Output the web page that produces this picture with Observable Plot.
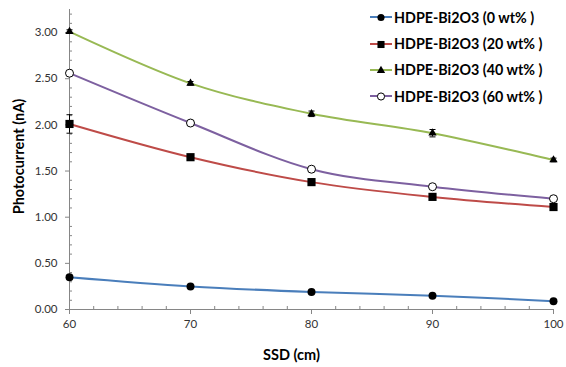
<!DOCTYPE html>
<html>
<head>
<meta charset="utf-8">
<script src="https://cdn.jsdelivr.net/npm/d3@7"></script>
<script src="https://cdn.jsdelivr.net/npm/@observablehq/plot@0.6"></script>
<style>
  body { margin: 0; background: #fff; }
  #wrap { position: relative; width: 566px; height: 367px; font-family: Lato, "Open Sans", sans-serif; }
  #legend { position: absolute; left: 369px; top: 4px; }
  .row { display: flex; align-items: center; height: 26.4px; font-weight: bold; font-size: 14.3px; color: #000; white-space: nowrap; }
  .row svg { margin-right: 1px; }
</style>
</head>
<body>
<div id="wrap"><div id="legend"></div></div>
<script>
// Data
const ssd = [60, 70, 80, 90, 100];
const seriesNames = ["HDPE-Bi2O3 (0 wt% )", "HDPE-Bi2O3 (20 wt% )", "HDPE-Bi2O3 (40 wt% )", "HDPE-Bi2O3 (60 wt% )"];
const wt0  = [0.35, 0.25, 0.19, 0.15, 0.09];
const wt20 = [2.01, 1.65, 1.38, 1.22, 1.11];
const wt40 = [3.01, 2.45, 2.12, 1.91, 1.62];
const wt60 = [2.56, 2.02, 1.52, 1.33, 1.20];
const err0  = [0.02, 0.01, 0.01, 0.01, 0.01];
const err20 = [0.10, 0.02, 0.02, 0.02, 0.02];
const err40 = [0.02, 0.02, 0.03, 0.04, 0.02];
const err60 = [0.02, 0.02, 0.02, 0.02, 0.02];
const colors = ["#4A7EBB", "#BE4B48", "#98B954", "#7D60A0"];
const symbols = ["circle", "square", "triangle", "circle"];
const fills = ["#000", "#000", "#000", "#fff"];
const yTicks = [0, 0.5, 1, 1.5, 2, 2.5, 3];
const yMinor = d3.range(1, 33).map(i => i / 10).filter(v => Math.abs(v * 2 - Math.round(v * 2)) > 1e-6);
const xTicks = [60, 70, 80, 90, 100];
const xMinor = d3.range(62, 100, 2).filter(v => v % 10 !== 0);

const allVals = [wt0, wt20, wt40, wt60];
const allErr = [err0, err20, err40, err60];
const rows = [];
allVals.forEach((vals, s) => vals.forEach((v, i) => rows.push({
  series: seriesNames[s], s, x: ssd[i], y: v, e: allErr[s][i]
})));

const capSymbol = {
  draw(ctx, size) { const r = Math.sqrt(size / Math.PI); ctx.moveTo(-r, 0); ctx.lineTo(r, 0); }
};

const markSizes = [4, 4.6, 3.1, 4];

const marks = [
  Plot.ruleX([60], {stroke: "#868686", strokeWidth: 1}),
  Plot.ruleY([0], {stroke: "#868686", strokeWidth: 1}),
  Plot.axisY({ticks: yTicks, tickFormat: d3.format(".2f"), tickSize: 4, tickPadding: 8, stroke: "#868686", fill: "#333", label: null}),
  Plot.axisY({ticks: yMinor, tickSize: -3, text: null, stroke: "#868686", label: null}),
  Plot.axisX({ticks: xTicks, tickSize: 5, tickPadding: 5, stroke: "#868686", fill: "#333", label: null}),
  Plot.axisX({ticks: xMinor, tickSize: -3, text: null, stroke: "#868686", label: null}),
  Plot.text(["Photocurrent (nA)"], {frameAnchor: "left", dx: -50, dy: -3, rotate: -90, textAnchor: "middle", lineAnchor: "middle", fontWeight: "bold", fontSize: 14.5, fill: "#000"}),
  Plot.text(["SSD (cm)"], {frameAnchor: "bottom", dx: -20, dy: 46, textAnchor: "middle", lineAnchor: "middle", fontWeight: "bold", fontSize: 14.5, fill: "#000"})
];

allVals.forEach((vals, s) => {
  const data = rows.filter(d => d.s === s);
  marks.push(Plot.line(data, {x: "x", y: "y", stroke: colors[s], strokeWidth: 2, curve: "cardinal", tension: 0}));
});
marks.push(Plot.ruleX(rows, {x: "x", y1: d => d.y - d.e, y2: d => d.y + d.e, stroke: "#000", strokeWidth: 1}));
marks.push(Plot.dot(rows, {x: "x", y: d => d.y - d.e, symbol: () => capSymbol, r: 3, stroke: "#000", strokeWidth: 1}));
marks.push(Plot.dot(rows, {x: "x", y: d => d.y + d.e, symbol: () => capSymbol, r: 3, stroke: "#000", strokeWidth: 1}));
allVals.forEach((vals, s) => {
  const data = rows.filter(d => d.s === s);
  marks.push(Plot.dot(data, {x: "x", y: "y", symbol: symbols[s], r: markSizes[s], fill: fills[s], stroke: "#000", strokeWidth: s === 3 ? 1 : 0}));
});

const chart = Plot.plot({
  width: 566, height: 367,
  marginLeft: 69, marginRight: 13, marginTop: 9, marginBottom: 58,
  x: {domain: [60, 100]},
  y: {domain: [0, 3.25]},
  symbol: {type: "identity"},
  style: {fontFamily: "Lato, 'Open Sans', sans-serif", fontSize: "11.5px", background: "#fff"},
  marks
});
document.getElementById("wrap").prepend(chart);

// Legend
const legend = document.getElementById("legend");
seriesNames.forEach((name, s) => {
  const row = document.createElement("div");
  row.className = "row";
  const sw = d3.create("svg").attr("width", 24).attr("height", 12);
  sw.append("line").attr("x1", 1).attr("x2", 23).attr("y1", 6).attr("y2", 6).attr("stroke", colors[s]).attr("stroke-width", 2);
  const sym = d3.symbol().type(s === 1 ? d3.symbolSquare : s === 2 ? d3.symbolTriangle : d3.symbolCircle).size(s === 0 || s === 3 ? 40 : s === 2 ? 30 : 50);
  sw.append("path").attr("d", sym()).attr("transform", "translate(12,6.5)").attr("fill", fills[s]).attr("stroke", "#000").attr("stroke-width", s === 3 ? 1 : 0);
  row.appendChild(sw.node());
  const t = document.createElement("span");
  t.textContent = name;
  row.appendChild(t);
  legend.appendChild(row);
});
</script>
</body>
</html>
